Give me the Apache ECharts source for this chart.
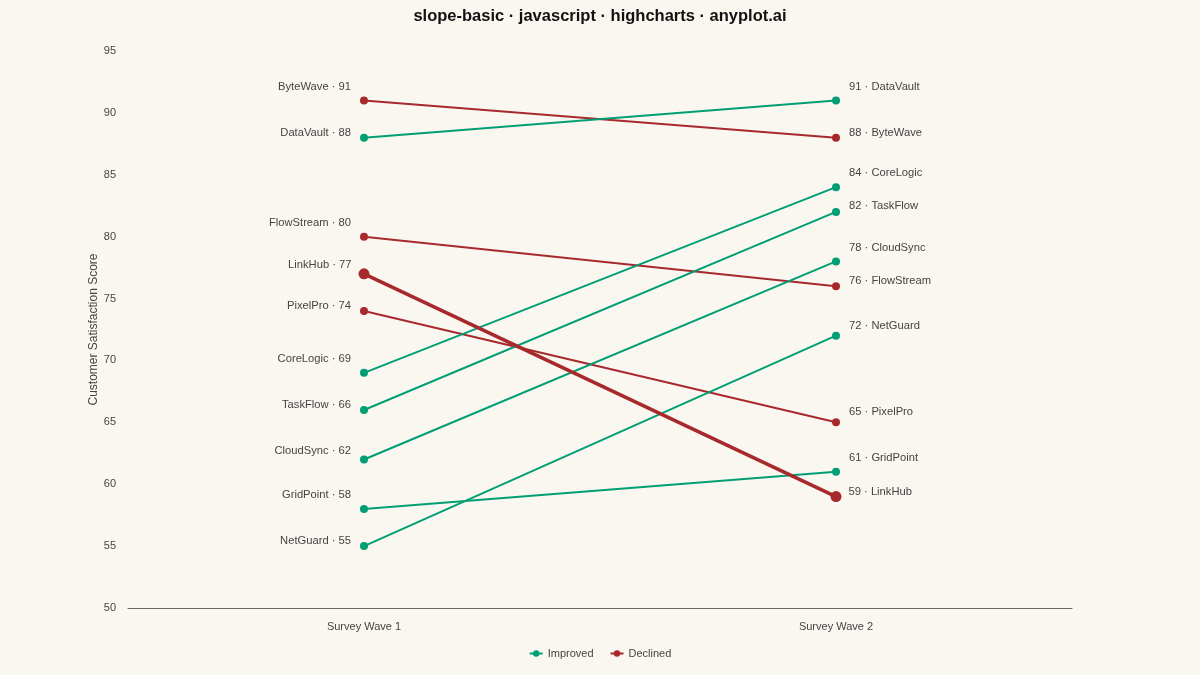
<!DOCTYPE html>
<html>
<head>
<meta charset="utf-8">
<script src="https://cdn.jsdelivr.net/npm/echarts@6/dist/echarts.min.js"></script>
<style>
  html, body { margin: 0; padding: 0; background: #faf7f1; }
  #chart { width: 1200px; height: 675px; }
</style>
</head>
<body>
<div id="chart"></div>
<script>
var waves = ["Survey Wave 1", "Survey Wave 2"];
var companies = ["ByteWave", "DataVault", "FlowStream", "LinkHub", "PixelPro", "CoreLogic", "TaskFlow", "CloudSync", "GridPoint", "NetGuard"];
var wave1 = [91, 88, 80, 77, 74, 69, 66, 62, 58, 55];
var wave2 = [88, 91, 76, 59, 65, 84, 82, 78, 61, 72];
var highlight = "LinkHub";

// label lift above the point (px), to keep neighbouring labels apart
var liftLeft = [14, 5, 14, 9, 5, 14, 5, 9, 14, 5];
var liftRight = [5, 14, 5, 5, 10, 14, 6, 14, 14, 10];

(function () {
  var myChart = echarts.init(document.getElementById("chart"));
  var GREEN = "#009e73";
  var RED = "#a8292c";

  var series = companies.map(function (name, i) {
    var up = wave2[i] >= wave1[i];
    var big = name === highlight;
    var color = up ? GREEN : RED;
    return {
      name: up ? "Improved" : "Declined",
      type: "line",
      color: color,
      symbol: "circle",
      symbolSize: big ? 11 : 8,
      lineStyle: { width: big ? 3.5 : 2, color: color },
      itemStyle: { color: color },
      emphasis: { disabled: true },
      z: big ? 5 : 2,
      data: [
        {
          value: wave1[i],
          label: {
            show: true, position: "left", distance: big ? 7 : 9, offset: [0, -liftLeft[i]],
            formatter: name + " · " + wave1[i]
          }
        },
        {
          value: wave2[i],
          label: {
            show: true, position: "right", distance: big ? 7 : 9, offset: [0, -liftRight[i]],
            formatter: wave2[i] + " · " + name
          }
        }
      ],
      label: { color: "#444", fontSize: 11.2, fontFamily: "Liberation Sans" }
    };
  });

  var option = {
    backgroundColor: "#faf7f1",
    animation: false,
    textStyle: { fontFamily: "Liberation Sans" },
    title: {
      text: "slope-basic · javascript · highcharts · anyplot.ai",
      left: "center",
      top: 3,
      textStyle: { fontSize: 16.5, fontWeight: "bold", color: "#111", fontFamily: "Liberation Sans" }
    },
    legend: {
      bottom: 11,
      left: "center",
      itemWidth: 13,
      itemHeight: 8,
      itemGap: 16,
      data: ["Improved", "Declined"],
      textStyle: { color: "#444", fontSize: 11 }
    },
    grid: { left: 128, right: 128, top: 51, bottom: 67 },
    xAxis: {
      type: "category",
      data: waves,
      boundaryGap: true,
      axisLine: { lineStyle: { color: "#666", width: 1 } },
      axisTick: { show: false },
      axisLabel: { color: "#444", fontSize: 11, margin: 13 }
    },
    yAxis: {
      type: "value",
      min: 50,
      max: 95,
      interval: 5,
      name: "Customer Satisfaction Score",
      nameLocation: "middle",
      nameGap: 28,
      nameMoveOverlap: false,
      nameTextStyle: { color: "#444", fontSize: 12 },
      axisLine: { show: false },
      axisTick: { show: false },
      splitLine: { show: false },
      axisLabel: { color: "#444", fontSize: 11, margin: 12 }
    },
    series: series
  };
  myChart.setOption(option);
})();
</script>
</body>
</html>
